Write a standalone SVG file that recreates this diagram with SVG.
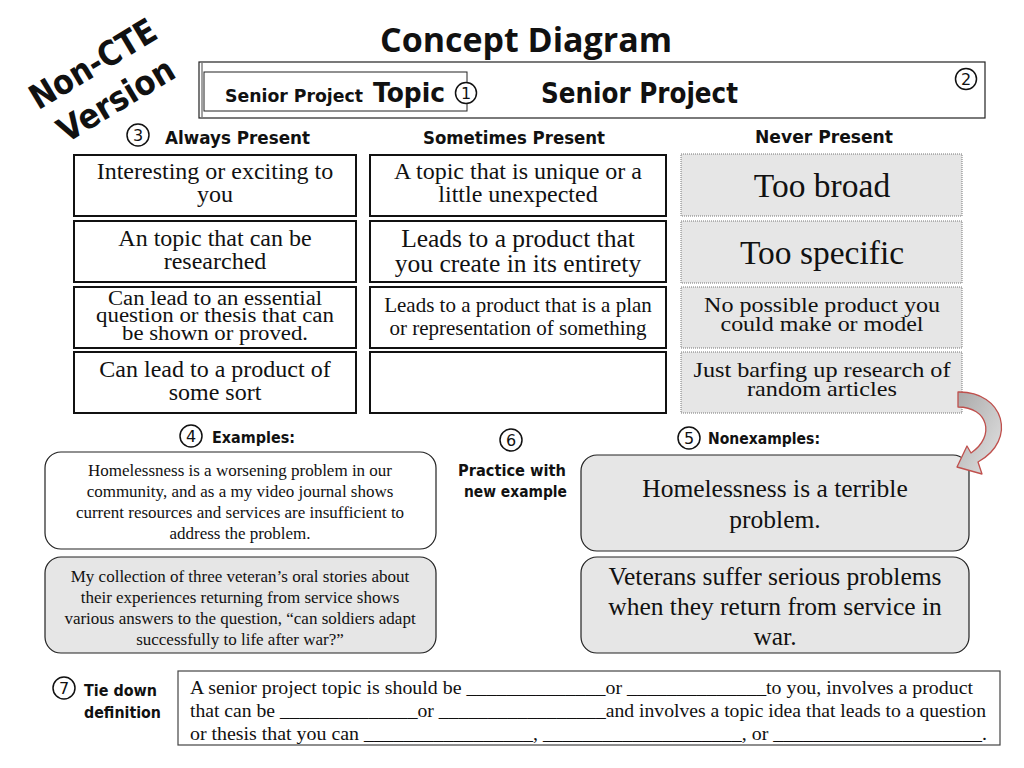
<svg xmlns="http://www.w3.org/2000/svg" width="1024" height="768" viewBox="0 0 1024 768">
<style>
.hd{font-family:"DejaVu Sans","Liberation Sans",sans-serif;font-weight:bold;fill:#111}
.tm{font-family:"Liberation Serif","Times New Roman",serif;fill:#111;text-anchor:middle}
.cell{fill:#fff;stroke:#111;stroke-width:2}
.gcell{fill:#e6e6e6;stroke:#777;stroke-width:1;stroke-dasharray:1 1}
.rbox{fill:#fff;stroke:#222;stroke-width:1.2}
.rgray{fill:#e6e6e6;stroke:#222;stroke-width:1.2}
.num{fill:#fff;stroke:#111;stroke-width:1.5}
.numt{font-family:"DejaVu Sans",sans-serif;font-size:16px;text-anchor:middle;fill:#111}
</style>
<defs>
<linearGradient id="arrowFill" x1="0" y1="0" x2="1" y2="1">
<stop offset="0" stop-color="#a9a9a9"/>
<stop offset="1" stop-color="#e4e4e4"/>
</linearGradient>
</defs>
<rect width="1024" height="768" fill="#fff"/>

<g id="title">
<text x="526" y="52" font-family="Open Sans, sans-serif" font-weight="700" font-size="34" text-anchor="middle" textLength="292" lengthAdjust="spacingAndGlyphs" fill="#111">Concept Diagram</text>
</g>

<g id="version">
<text class="hd" x="99" y="74" font-size="34" text-anchor="middle" transform="rotate(-31 99 74)" textLength="142" lengthAdjust="spacingAndGlyphs">Non-CTE</text>
<text class="hd" x="122" y="110" font-size="34" text-anchor="middle" transform="rotate(-31 122 110)" textLength="130" lengthAdjust="spacingAndGlyphs">Version</text>
</g>

<g id="header">
<rect x="199" y="62" width="786" height="56" fill="#fff" stroke="#222" stroke-width="1.2"/>
<line x1="202" y1="63" x2="202" y2="117" stroke="#444" stroke-width="1"/>
<rect x="204" y="72" width="263" height="39" fill="none" stroke="#222" stroke-width="1"/>
<text class="hd" x="225" y="102" font-size="17" textLength="138" lengthAdjust="spacingAndGlyphs">Senior Project</text>
<text class="hd" x="373" y="102" font-size="27" textLength="72" lengthAdjust="spacingAndGlyphs">Topic</text>
<circle class="num" cx="466" cy="93" r="10.5"/>
<text class="numt" x="466" y="99">1</text>
<text class="hd" x="541" y="103" font-size="28" textLength="197" lengthAdjust="spacingAndGlyphs">Senior Project</text>
<circle class="num" cx="966" cy="79" r="10.5"/>
<text class="numt" x="966" y="85">2</text>
</g>

<g id="col-headers">
<circle class="num" cx="138" cy="135" r="11"/>
<text class="numt" x="138" y="141">3</text>
<text class="hd" x="165" y="144" font-size="17" textLength="145" lengthAdjust="spacingAndGlyphs">Always Present</text>
<text class="hd" x="423" y="144" font-size="17" textLength="182" lengthAdjust="spacingAndGlyphs">Sometimes Present</text>
<text class="hd" x="755" y="143" font-size="17" textLength="138" lengthAdjust="spacingAndGlyphs">Never Present</text>
</g>

<g id="always">
<g id="a1"><rect class="cell" x="74" y="155" width="282" height="61"/>
<text class="tm" x="215" y="179" font-size="24">Interesting or exciting to</text>
<text class="tm" x="215" y="202" font-size="24">you</text></g>
<g id="a2"><rect class="cell" x="74" y="221" width="282" height="61"/>
<text class="tm" x="215" y="246" font-size="24">An topic that can be</text>
<text class="tm" x="215" y="269" font-size="24">researched</text></g>
<g id="a3"><rect class="cell" x="74" y="287" width="282" height="61"/>
<text class="tm" x="215" y="305" font-size="20" textLength="214" lengthAdjust="spacingAndGlyphs">Can lead to an essential</text>
<text class="tm" x="215" y="322" font-size="20" textLength="238" lengthAdjust="spacingAndGlyphs">question or thesis that can</text>
<text class="tm" x="215" y="340" font-size="20" textLength="186" lengthAdjust="spacingAndGlyphs">be shown or proved.</text></g>
<g id="a4"><rect class="cell" x="74" y="352" width="282" height="61"/>
<text class="tm" x="215" y="377" font-size="24">Can lead to a product of</text>
<text class="tm" x="215" y="400" font-size="24">some sort</text></g>
</g>

<g id="sometimes">
<g id="s1"><rect class="cell" x="370" y="155" width="296" height="61"/>
<text class="tm" x="518" y="179" font-size="24">A topic that is unique or a</text>
<text class="tm" x="518" y="202" font-size="24">little unexpected</text></g>
<g id="s2"><rect class="cell" x="370" y="221" width="296" height="61"/>
<text class="tm" x="518" y="247" font-size="25.5">Leads to a product that</text>
<text class="tm" x="518" y="272" font-size="25.5">you create in its entirety</text></g>
<g id="s3"><rect class="cell" x="370" y="287" width="296" height="61"/>
<text class="tm" x="518" y="312" font-size="21">Leads to a product that is a plan</text>
<text class="tm" x="518" y="335" font-size="21">or representation of something</text></g>
<g id="s4"><rect class="cell" x="370" y="352" width="296" height="61"/></g>
</g>

<g id="never">
<g id="n1"><rect class="gcell" x="681" y="154" width="281" height="62"/>
<text class="tm" x="822" y="197" font-size="33.5">Too broad</text></g>
<g id="n2"><rect class="gcell" x="681" y="221" width="281" height="62"/>
<text class="tm" x="822" y="264" font-size="33.5">Too specific</text></g>
<g id="n3"><rect class="gcell" x="681" y="287" width="281" height="61"/>
<text class="tm" x="822" y="312" font-size="21" textLength="236" lengthAdjust="spacingAndGlyphs">No possible product you</text>
<text class="tm" x="822" y="331" font-size="21" textLength="203" lengthAdjust="spacingAndGlyphs">could make or model</text></g>
<g id="n4"><rect class="gcell" x="681" y="352" width="281" height="61"/>
<text class="tm" x="822" y="377" font-size="21" textLength="257" lengthAdjust="spacingAndGlyphs">Just barfing up research of</text>
<text class="tm" x="822" y="396" font-size="21" textLength="150" lengthAdjust="spacingAndGlyphs">random articles</text></g>
</g>

<g id="labels">
<circle class="num" cx="191" cy="436" r="11"/>
<text class="numt" x="191" y="442">4</text>
<text class="hd" x="212" y="443" font-size="15" textLength="83" lengthAdjust="spacingAndGlyphs">Examples:</text>
<circle class="num" cx="511" cy="440" r="11"/>
<text class="numt" x="511" y="446">6</text>
<text class="hd" x="458" y="476" font-size="15" textLength="108" lengthAdjust="spacingAndGlyphs">Practice with</text>
<text class="hd" x="464" y="497" font-size="15" textLength="103" lengthAdjust="spacingAndGlyphs">new example</text>
<circle class="num" cx="689" cy="438" r="11"/>
<text class="numt" x="689" y="444">5</text>
<text class="hd" x="708" y="444" font-size="15" textLength="112" lengthAdjust="spacingAndGlyphs">Nonexamples:</text>
</g>

<g id="examples">
<g id="e1"><rect class="rbox" x="45" y="452" width="391" height="97" rx="16"/>
<text class="tm" x="240" y="476" font-size="17">Homelessness is a worsening problem in our</text>
<text class="tm" x="240" y="497" font-size="17">community, and as a my video journal shows</text>
<text class="tm" x="240" y="518" font-size="17">current resources and services are insufficient to</text>
<text class="tm" x="240" y="539" font-size="17">address the problem.</text></g>
<g id="e2"><rect class="rgray" x="45" y="557" width="391" height="96" rx="16"/>
<text class="tm" x="240" y="582" font-size="17">My collection of three veteran’s oral stories about</text>
<text class="tm" x="240" y="603" font-size="17">their experiences returning from service shows</text>
<text class="tm" x="240" y="624" font-size="17">various answers to the question, “can soldiers adapt</text>
<text class="tm" x="240" y="645" font-size="17">successfully to life after war?”</text></g>
</g>

<g id="nonexamples">
<g id="x1"><rect class="rgray" x="581" y="455" width="388" height="96" rx="16"/>
<text class="tm" x="775" y="497" font-size="25.5">Homelessness is a terrible</text>
<text class="tm" x="775" y="528" font-size="25.5">problem.</text></g>
<g id="x2"><rect class="rgray" x="581" y="557" width="388" height="96" rx="16"/>
<text class="tm" x="775" y="585" font-size="25.5">Veterans suffer serious problems</text>
<text class="tm" x="775" y="615" font-size="25.5">when they return from service in</text>
<text class="tm" x="775" y="645" font-size="25.5">war.</text></g>
</g>

<g id="connectors">
<path d="M958,392 C1004,391 1018,440 978,462 L982,474 L957,467 L967,446 L971,453 C996,436 988,407 958,407 Z" fill="url(#arrowFill)" stroke="#c0504d" stroke-width="1.3" stroke-linejoin="round"/>
</g>

<g id="tiedown">
<circle class="num" cx="64" cy="688" r="11"/>
<text class="numt" x="64" y="694">7</text>
<text class="hd" x="84" y="696" font-size="15" textLength="73" lengthAdjust="spacingAndGlyphs">Tie down</text>
<text class="hd" x="84" y="718" font-size="15" textLength="77" lengthAdjust="spacingAndGlyphs">definition</text>
<rect x="178" y="671" width="822" height="74" fill="#fff" stroke="#444" stroke-width="1.2"/>
<text class="tm" x="190" y="694" font-size="19" style="text-anchor:start" textLength="783" lengthAdjust="spacingAndGlyphs">A senior project topic is should be ______________or ______________to you, involves a product</text>
<text class="tm" x="190" y="717" font-size="19" style="text-anchor:start" textLength="796" lengthAdjust="spacingAndGlyphs">that can be ______________or _________________and involves a topic idea that leads to a question</text>
<text class="tm" x="190" y="740" font-size="19" style="text-anchor:start" textLength="797" lengthAdjust="spacingAndGlyphs">or thesis that you can _________________, ____________________, or _____________________.</text>
</g>
</svg>
